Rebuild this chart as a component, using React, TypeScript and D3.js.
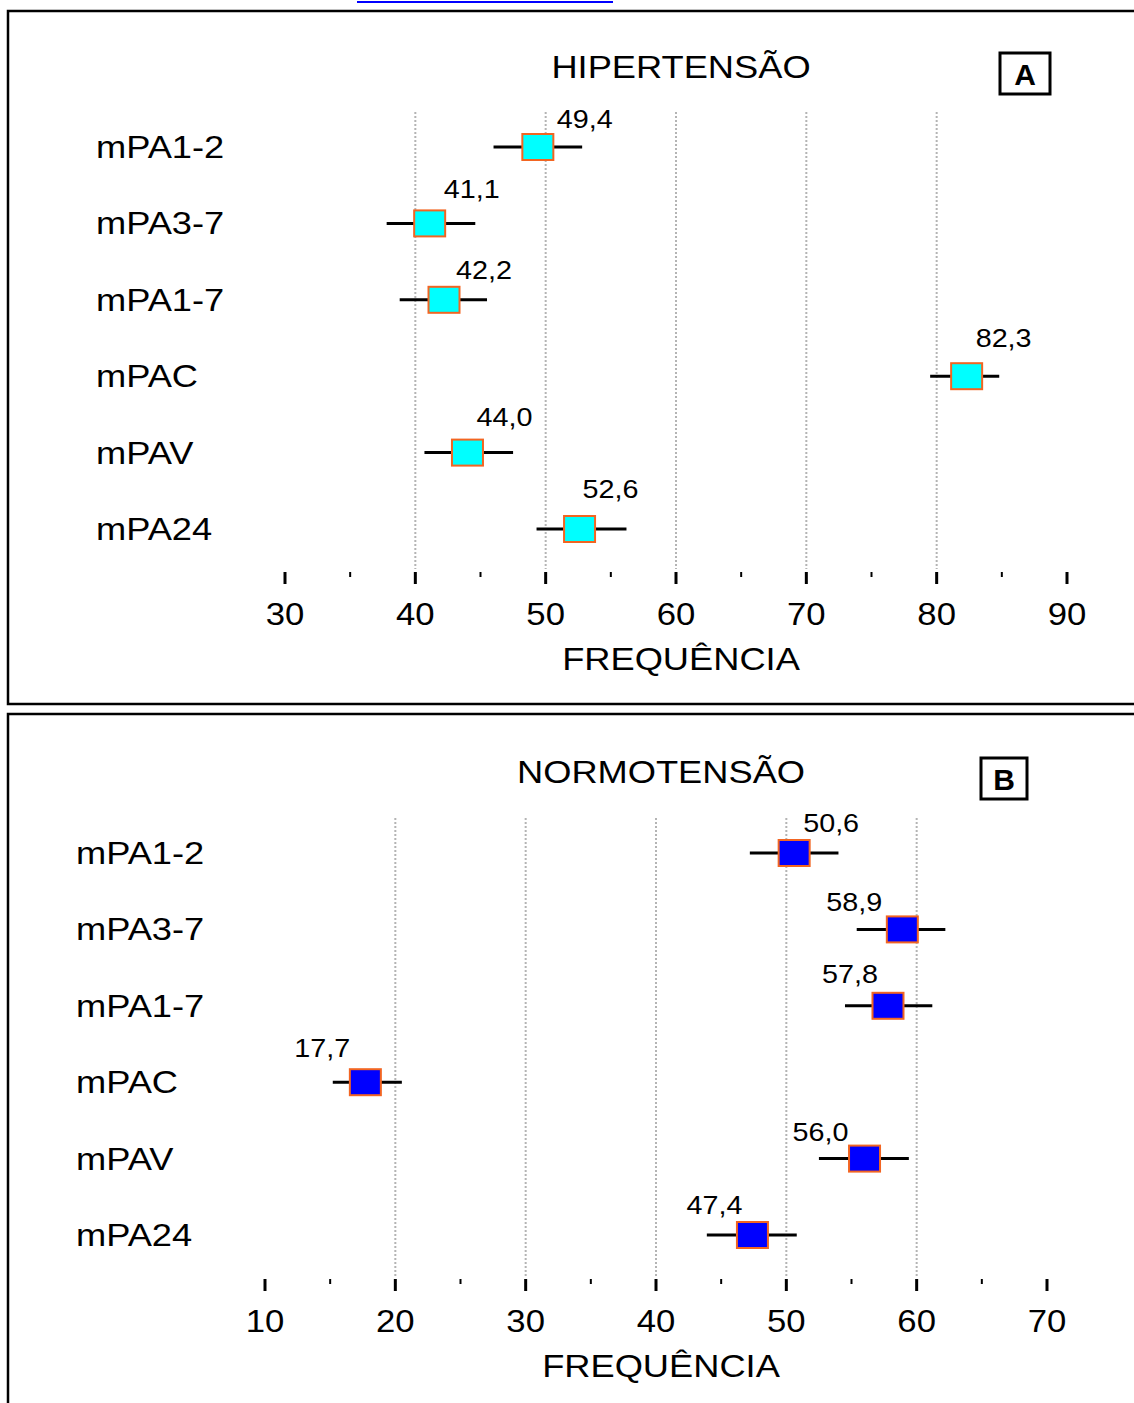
import React from "react";
import * as d3 from "d3";

// Row categories shared by both panels
const categories = ["mPA1-2", "mPA3-7", "mPA1-7", "mPAC", "mPAV", "mPA24"];

// Panel A – hypertension: point estimate with lower/upper limits
const hiperValues = [49.4, 41.1, 42.2, 82.3, 44.0, 52.6];
const hiperLow = [46.0, 37.8, 38.8, 79.5, 40.7, 49.3];
const hiperHigh = [52.8, 44.6, 45.5, 84.8, 47.5, 56.2];
const hiperTicks = [30, 40, 50, 60, 70, 80, 90];

// Panel B – normotension
const normoValues = [50.6, 58.9, 57.8, 17.7, 56.0, 47.4];
const normoLow = [47.2, 55.4, 54.5, 15.2, 52.5, 43.9];
const normoHigh = [54.0, 62.2, 61.2, 20.5, 59.4, 50.8];
const normoTicks = [10, 20, 30, 40, 50, 60, 70];

const FONT = "'Liberation Sans', Arial, sans-serif";

type PanelProps = {
  title: string;
  tag: string;
  values: number[];
  low: number[];
  high: number[];
  ticks: number[];
  xRange: [number, number];
  rowRange: [number, number];
  labelX: number;
  gridTop: number;
  axisY: number;
  titleX: number;
  titleY: number;
  tagBox: [number, number, number, number];
  fill: string;
  labelShift: [number, number][];
};

function Txt({ x, y, size, sx = 1.12, anchor = "start", children }: any) {
  return (
    <text
      transform={`translate(${x},${y}) scale(${sx},1)`}
      fontSize={size}
      fontFamily={FONT}
      textAnchor={anchor}
      fill="#000"
    >
      {children}
    </text>
  );
}

function Panel(p: PanelProps) {
  const x = d3.scaleLinear().domain([p.ticks[0], p.ticks[p.ticks.length - 1]]).range(p.xRange);
  const y = d3.scalePoint<string>().domain(categories).range(p.rowRange);
  const minor = d3.range(p.ticks[0] + 5, p.ticks[p.ticks.length - 1], 10);
  const grid = p.ticks.slice(1, -1);
  const fmt = (v: number) => v.toFixed(1).replace(".", ",");
  const w = 31;
  const h = 26;
  return (
    <g>
      {grid.map((t) => (
        <line
          key={"g" + t}
          x1={x(t)}
          x2={x(t)}
          y1={p.gridTop}
          y2={p.axisY - 3}
          stroke="#b4b4b4"
          strokeWidth={2}
          strokeDasharray="2 2"
        />
      ))}
      <Txt x={p.titleX} y={p.titleY} size={31} sx={1.17} anchor="middle">{p.title}</Txt>
      <rect
        x={p.tagBox[0]}
        y={p.tagBox[1]}
        width={p.tagBox[2]}
        height={p.tagBox[3]}
        fill="#fff"
        stroke="#000"
        strokeWidth={3}
      />
      <text
        x={p.tagBox[0] + p.tagBox[2] / 2}
        y={p.tagBox[1] + p.tagBox[3] / 2 + 11}
        fontSize={30}
        fontWeight="bold"
        fontFamily={FONT}
        textAnchor="middle"
      >
        {p.tag}
      </text>
      {categories.map((c, i) => {
        const cy = y(c)!;
        const cx = x(p.values[i]);
        return (
          <g key={c}>
            <Txt x={p.labelX} y={cy + 11} size={31} sx={1.17}>{c}</Txt>
            <line x1={x(p.low[i])} x2={x(p.high[i])} y1={cy} y2={cy} stroke="#000" strokeWidth={3} />
            <rect
              x={cx - w / 2}
              y={cy - h / 2}
              width={w}
              height={h}
              fill={p.fill}
              stroke="#f26522"
              strokeWidth={2}
            />
            <Txt x={cx + p.labelShift[i][0]} y={cy + p.labelShift[i][1]} size={25} sx={1.15}>
              {fmt(p.values[i])}
            </Txt>
          </g>
        );
      })}
      {p.ticks.map((t) => (
        <g key={"t" + t}>
          <line x1={x(t)} x2={x(t)} y1={p.axisY} y2={p.axisY + 12} stroke="#000" strokeWidth={3} />
          <Txt x={x(t)} y={p.axisY + 53} size={31} anchor="middle">{t}</Txt>
        </g>
      ))}
      {minor.map((t) => (
        <line key={"m" + t} x1={x(t)} x2={x(t)} y1={p.axisY} y2={p.axisY + 5} stroke="#000" strokeWidth={2} />
      ))}
      <Txt x={p.titleX} y={p.axisY + 98} size={31} sx={1.17} anchor="middle">FREQUÊNCIA</Txt>
    </g>
  );
}

export default function App() {
  return (
    <svg
      width={1134}
      height={1403}
      style={{ position: "absolute", left: 0, top: 0, background: "#fff" }}
    >
      <rect x={0} y={0} width={1134} height={1403} fill="#fff" />
      <line x1={357} x2={613} y1={2} y2={2} stroke="#0000ff" strokeWidth={2} />
      <rect x={8} y={11} width={1140} height={693} fill="none" stroke="#000" strokeWidth={2.5} />
      <rect x={8} y={714} width={1140} height={700} fill="none" stroke="#000" strokeWidth={2.5} />
      <Panel
        title="HIPERTENSÃO"
        tag="A"
        values={hiperValues}
        low={hiperLow}
        high={hiperHigh}
        ticks={hiperTicks}
        xRange={[285, 1067]}
        rowRange={[147, 529]}
        labelX={96}
        gridTop={112}
        axisY={572}
        titleX={681}
        titleY={78}
        tagBox={[1000, 53, 50, 41]}
        fill="#00ffff"
        labelShift={[[19, -19], [14, -25], [12, -21], [9, -29], [9, -27], [3, -31]]}
      />
      <Panel
        title="NORMOTENSÃO"
        tag="B"
        values={normoValues}
        low={normoLow}
        high={normoHigh}
        ticks={normoTicks}
        xRange={[265, 1047]}
        rowRange={[853, 1235]}
        labelX={76}
        gridTop={818}
        axisY={1279}
        titleX={661}
        titleY={783}
        tagBox={[981, 758, 46, 41]}
        fill="#0000ff"
        labelShift={[[9, -21], [-76, -18], [-66, -23], [-71, -25], [-72, -18], [-66, -21]]}
      />
    </svg>
  );
}
